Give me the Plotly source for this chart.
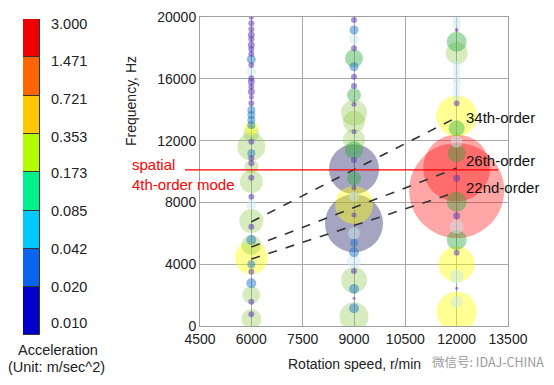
import plotly.graph_objects as go

# ---------------- data ----------------
# bubble columns: rotation speed (r/min), frequency (Hz), bubble size, colour level
rpm_6000_freq = [19978, 19590, 19202, 18833, 18555, 18186, 17907, 17603, 17258, 16893,
                 16458, 16030, 15811, 15488, 15164, 14799, 14411, 13979, 13656, 13332,
                 13009, 12794, 12471, 11928, 11604, 11177, 10854, 10530, 10310, 9598,
                 9339, 8369, 7831, 6796, 6427, 5566, 5242, 4420, 3993, 3515,
                 2762, 2006, 1573, 757, 453]
rpm_6000_size = [5, 6, 6, 7, 6, 7, 6, 6, 9, 6,
                 10, 6, 7, 6, 7, 5, 6, 8, 8, 8,
                 8, 14, 16, 6, 28, 8, 6, 6, 14, 6,
                 23, 6, 10, 24, 6, 10, 20, 33, 8, 6,
                 10, 18, 6, 6, 20]
rpm_6000_level = [0, 0, 0, 0, 0, 0, 0, 0, 1, 0,
                  2, 0, 0, 0, 0, 0, 0, 1, 1, 1,
                  1, 5, 4, 0, 4, 1, 0, 0, 4, 0,
                  4, 0, 2, 4, 0, 1, 4, 5, 1, 0,
                  1, 4, 0, 0, 4]

rpm_9000_freq = [19804, 19157, 18555, 17972, 17326, 16782, 16135, 15533, 14950, 14347,
                 13805, 13222, 12575, 12038, 11391, 10744, 10150, 9559, 8951, 8369,
                 7831, 7184, 6647, 6000, 5391, 4770, 4161, 3560, 2977, 2395,
                 1793, 1145, 602]
rpm_9000_size = [6, 9, 10, 6, 18, 9, 6, 6, 14, 5,
                 26, 22, 5, 22, 18, 6, 50, 14, 5, 10,
                 38, 5, 58, 12, 8, 10, 14, 6, 26, 10,
                 3, 10, 29]
rpm_9000_level = [0, 1, 2, 0, 3, 1, 0, 0, 3, 0,
                  4, 4, 0, 4, 3, 0, 6, 3, 0, 2,
                  5, 0, 6, 2, 1, 1, 2, 0, 4, 1,
                  0, 1, 4]

rpm_12000_freq = [19800, 19500, 19157, 18400, 17649, 16893, 16458, 16030, 15706, 15274,
                  14842, 14411, 13591, 12794, 11928, 11177, 10226, 9559, 8770, 8045,
                  7140, 6427, 5566, 4744, 3993, 3191, 2440, 1573, 926]
rpm_12000_size = [8, 8, 4, 20, 22, 8, 8, 8, 8, 8,
                  8, 6, 41, 16, 12, 18, 67, 7, 95, 20,
                  7, 14, 20, 6, 36, 14, 3, 12, 40]
rpm_12000_level = [2, 2, 0, 3, 4, 2, 2, 2, 2, 2,
                   2, 0, 5, 3, 2, 3, 7, 0, 7, 3,
                   0, 2, 3, 0, 5, 2, 0, 2, 5]

level_colors = ["rgba(95,60,185,0.78)",    # purple
                "rgba(30,120,200,0.7)",    # blue
                "rgba(200,232,238,0.7)",   # light cyan
                "rgba(40,170,60,0.6)",     # green
                "rgba(140,200,70,0.5)",    # light green
                "rgba(255,255,0,0.6)",     # yellow
                "rgba(40,40,110,0.6)",     # navy
                "rgba(255,0,0,0.5)"]       # red

# order lines (frequency at 6000 and 12000 r/min)
order_labels = ["34th-order", "26th-order", "22nd-order"]
order_rpm = [6000, 12000]
order_f_start = [6740, 5110, 4330]
order_f_end = [13500, 10220, 8670]
order_label_shift = [0, 8, 5]

# spatial 4th-order mode frequency
mode_freq = 10100

# colour legend
legend_labels = ["3.000", "1.471", "0.721", "0.353", "0.173", "0.085", "0.042", "0.020", "0.010"]
legend_colors = ["#0000C8", "#0A64F0", "#00C8FA", "#00F08C", "#B4FA00", "#FFC800", "#FF6400", "#F00000"]

x_ticks = [4500, 6000, 7500, 9000, 10500, 12000, 13500]
y_ticks = [0, 4000, 8000, 12000, 16000, 20000]

# ---------------- figure ----------------
# page body has an 8px margin: build the figure in reference pixel coords shifted by it
OX, OY = 8, 8
W, H = 554 - 2 * OX, 385 - 2 * OY
FONT = "Liberation Sans, Arial, sans-serif"


def px(x):
    return (x - OX) / W


def py(y):
    return (H - (y - OY)) / H


pts = []
for r, fs, ss, ls in [(6000, rpm_6000_freq, rpm_6000_size, rpm_6000_level),
                      (9000, rpm_9000_freq, rpm_9000_size, rpm_9000_level),
                      (12000, rpm_12000_freq, rpm_12000_size, rpm_12000_level)]:
    for f, s, l in zip(fs, ss, ls):
        pts.append((r, f, s, l))
pts.sort(key=lambda p: -p[2])

fig = go.Figure()

fig.add_trace(go.Scatter(
    x=[p[0] for p in pts], y=[p[1] for p in pts], mode="markers",
    marker=dict(size=[p[2] for p in pts], sizemode="diameter",
                color=[level_colors[p[3]] for p in pts], line=dict(width=0)),
    hoverinfo="skip", showlegend=False, xaxis="x", yaxis="y"))

for lab, f0, f1, sh in zip(order_labels, order_f_start, order_f_end, order_label_shift):
    fig.add_trace(go.Scatter(x=order_rpm, y=[f0, f1], mode="lines",
                             line=dict(color="#333333", width=1.6, dash="dash"),
                             showlegend=False, hoverinfo="skip", xaxis="x", yaxis="y"))
    fig.add_annotation(x=order_rpm[1], y=f1, xref="x", yref="y", text=lab, showarrow=False,
                       xanchor="left", yanchor="middle", xshift=7, yshift=sh,
                       font=dict(family=FONT, size=15, color="#111111"))

# colour legend as stacked bars
heights = [1.25] + [1] * 7
bases = [sum(heights[:i]) for i in range(len(heights))]
fig.add_trace(go.Bar(x=[0] * 8, y=heights, base=bases, width=1,
                     marker=dict(color=legend_colors, line=dict(color="#333333", width=1)),
                     showlegend=False, hoverinfo="skip", xaxis="x3", yaxis="y3"))

# red mode line
fig.add_shape(type="line", xref="paper", yref="y", x0=px(185), x1=px(498), y0=mode_freq, y1=mode_freq,
              line=dict(color="#FF0000", width=1.3))

fig.update_layout(
    template=None,
    width=W, height=H, margin=dict(l=0, r=0, t=0, b=0, autoexpand=False),
    paper_bgcolor="white", plot_bgcolor="white",
    font=dict(family=FONT, size=14, color="#222222"),
    bargap=0,
    xaxis=dict(domain=[px(200), px(508)], range=[4500, 13500], tickvals=x_ticks,
               ticktext=[str(v) for v in x_ticks], automargin=False,
               showgrid=True, gridcolor="#A8A8A8", gridwidth=1, zeroline=False,
               showline=True, linecolor="#A0A0A0", mirror=True, ticks="",
               tickfont=dict(size=14, color="#222222"), anchor="y"),
    yaxis=dict(domain=[py(326), py(17)], range=[0, 20000], tickvals=y_ticks,
               ticktext=[str(v) for v in y_ticks], automargin=False,
               showgrid=True, gridcolor="#A8A8A8", gridwidth=1, zeroline=False,
               showline=True, linecolor="#A0A0A0", mirror=True, ticks="",
               tickfont=dict(size=14, color="#222222"), anchor="x"),
    xaxis3=dict(domain=[px(23), px(40)], range=[-0.5, 0.5], visible=False, anchor="y3",
                automargin=False),
    yaxis3=dict(domain=[py(335), py(19)], range=[0, 8.25], anchor="x3", side="right",
                tickvals=[0.31, 1.25, 2.25, 3.24, 4.23, 5.17, 6.16, 7.15, 8.12][::-1],
                ticktext=legend_labels, showgrid=False, zeroline=False, showline=False,
                automargin=False,
                ticks="", ticklabelstandoff=10, tickfont=dict(size=14.5, color="#222222")),
)

ann = [
    dict(x=131, y=101, text="Frequency, Hz", textangle=-90, size=14),
    dict(x=354, y=364, text="Rotation speed, r/min", size=14),
    dict(x=58, y=350, text="Acceleration", size=14.5),
    dict(x=56, y=367, text="(Unit: m/sec^2)", size=14.5),
]
for a in ann:
    fig.add_annotation(x=px(a["x"]), y=py(a["y"]), xref="paper", yref="paper", text=a["text"],
                       showarrow=False, textangle=a.get("textangle", 0),
                       xanchor="center", yanchor="middle",
                       font=dict(family=FONT, size=a["size"], color="#222222"))

fig.add_annotation(x=px(130), y=py(164), xref="paper", yref="paper", text="spatial",
                   showarrow=False, xanchor="left", yanchor="middle",
                   font=dict(family=FONT, size=15, color="#FF0000"))
fig.add_annotation(x=px(130), y=py(184), xref="paper", yref="paper", text="4th-order mode",
                   showarrow=False, xanchor="left", yanchor="middle",
                   font=dict(family=FONT, size=15, color="#FF0000"))
fig.add_annotation(x=px(488), y=py(361), xref="paper", yref="paper", text="微信号: IDAJ-CHINA",
                   showarrow=False, xanchor="center", yanchor="middle",
                   font=dict(family="Noto Sans CJK SC, sans-serif", size=12.5, color="#9A9A9A"))

fig.write_html("out.html")
